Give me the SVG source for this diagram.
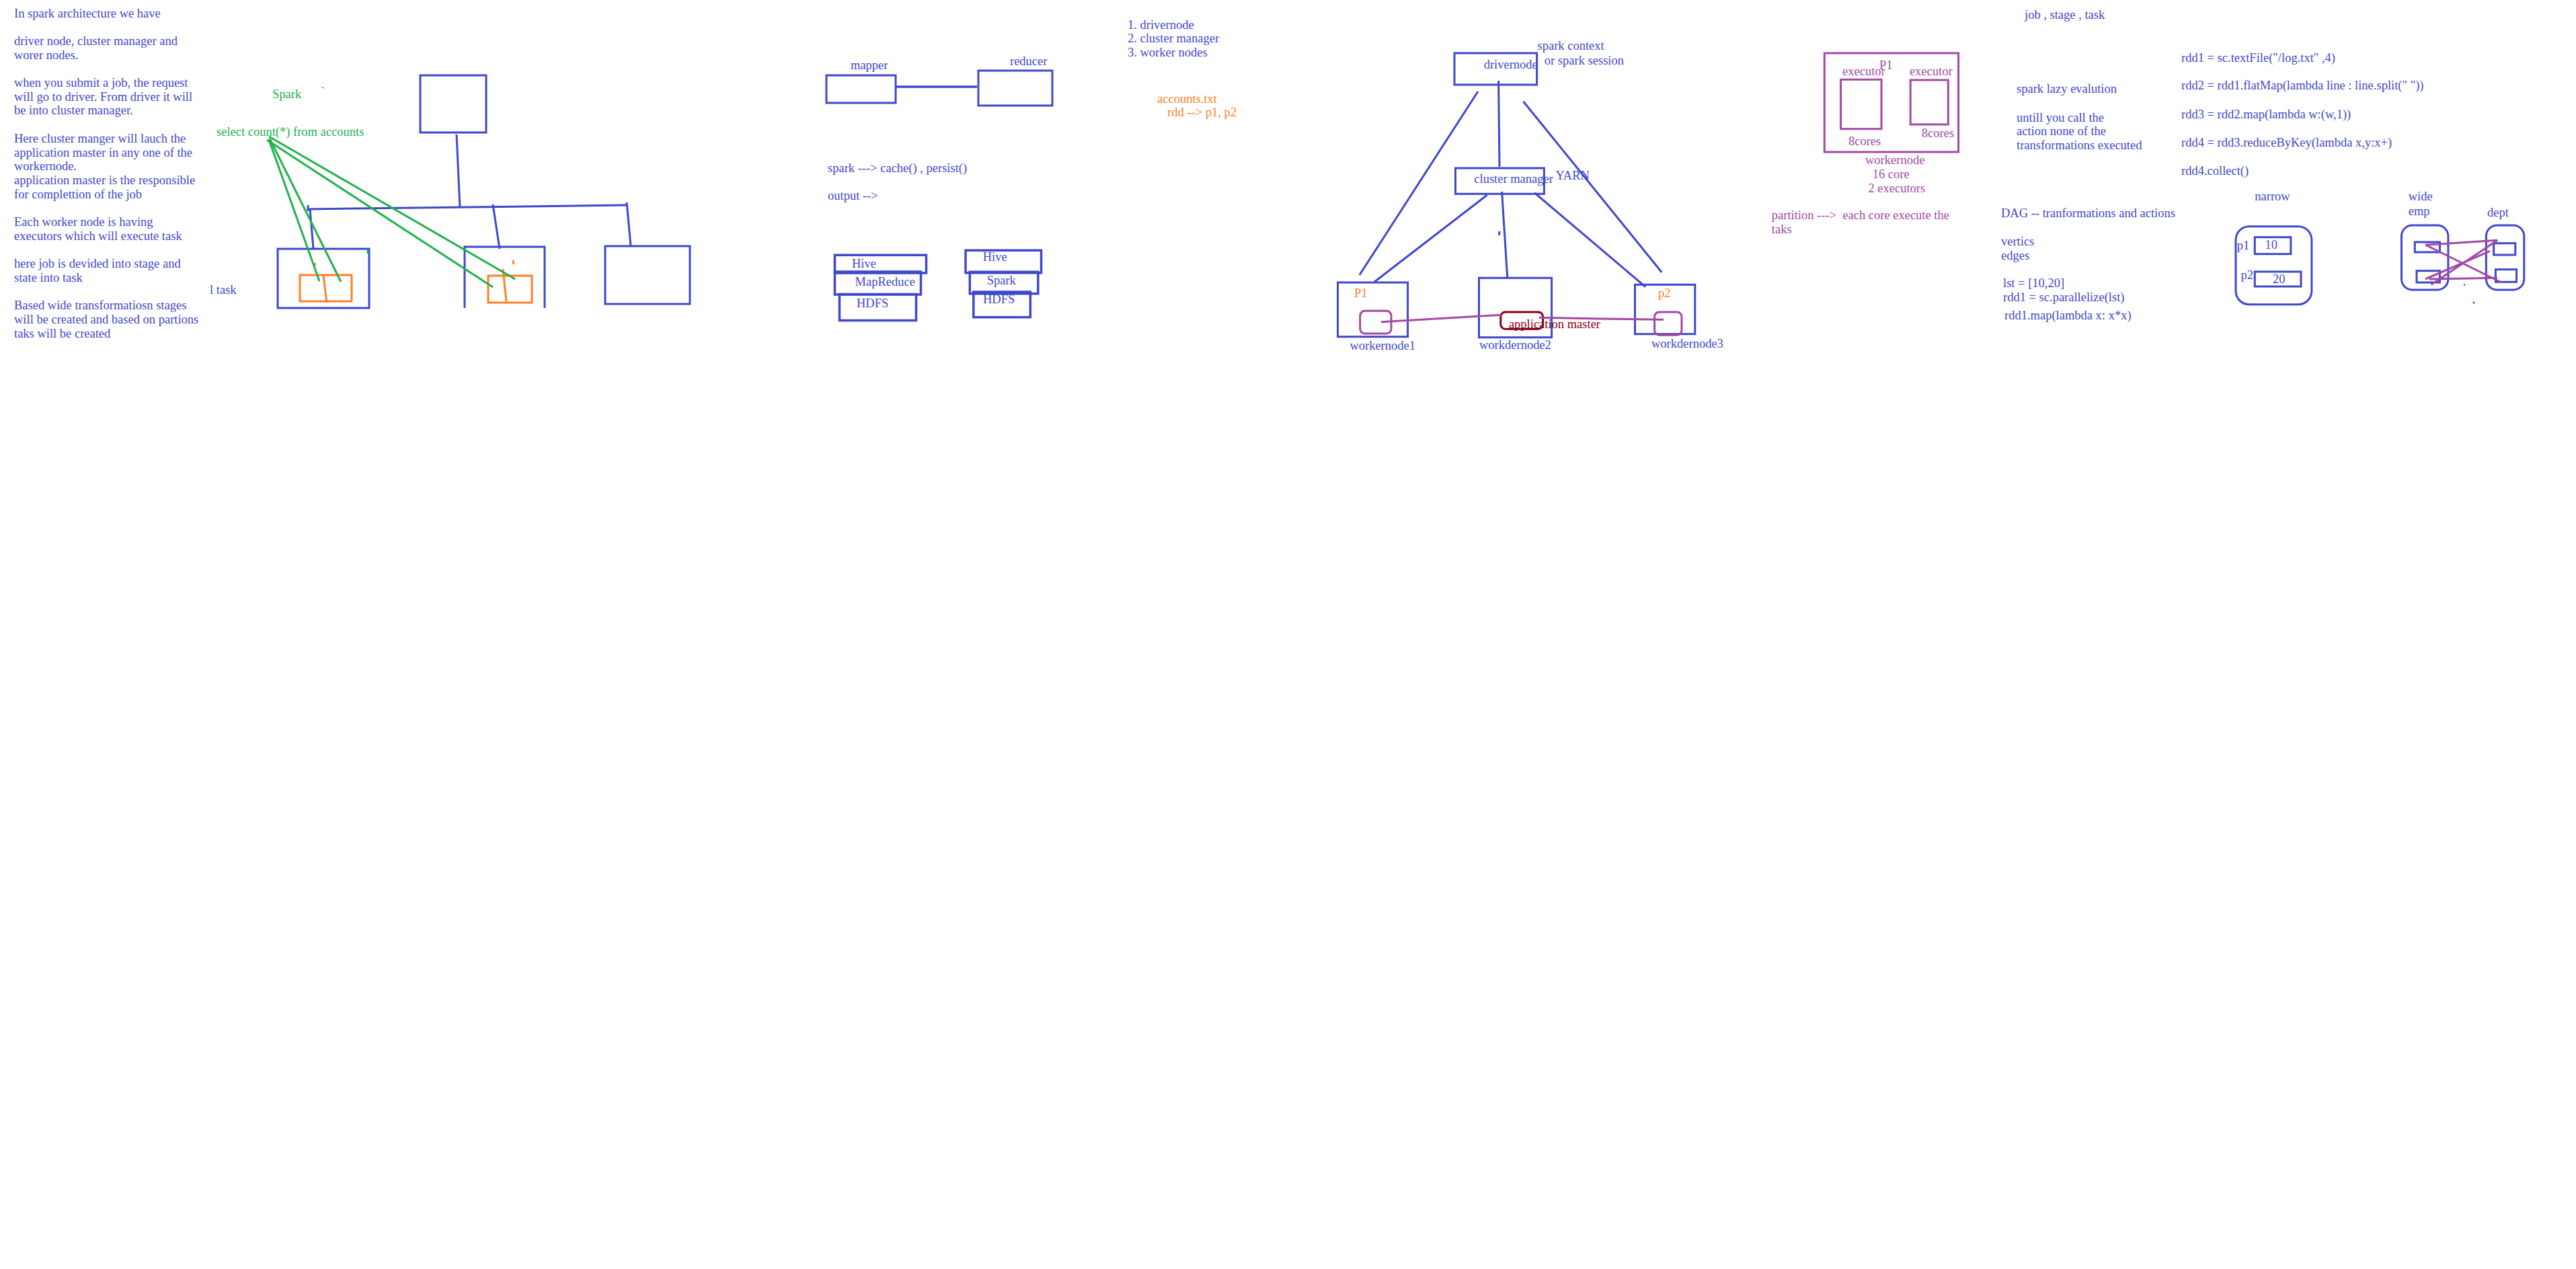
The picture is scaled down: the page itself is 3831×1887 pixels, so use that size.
<svg xmlns="http://www.w3.org/2000/svg" width="3831" height="1887" viewBox="0 0 3831 1887">
<style>
text{font-family:"Liberation Serif","Times New Roman",serif;font-size:18.5px}
.b{fill:#3f48cc}
.g{fill:#22b14c}
.o{fill:#ff7f27}
.p{fill:#a349a4}
.r{fill:#880015}
.sb{fill:none;stroke:#3f48cc;stroke-width:3}
.sb4{fill:none;stroke:#3f48cc;stroke-width:3.5}
.sg{fill:none;stroke:#22b14c;stroke-width:3}
.so{fill:none;stroke:#ff7f27;stroke-width:3}
.sp{fill:none;stroke:#a349a4;stroke-width:3}
.sr{fill:none;stroke:#880015;stroke-width:3}
</style>
<rect width="3831" height="1887" fill="#ffffff"/>

<g id="notes" class="b">
<text x="21" y="25.5">In spark architecture we have</text>
<text x="21" y="66.9">driver node, cluster manager and</text>
<text x="21" y="87.6">worer nodes.</text>
<text x="21" y="129">when you submit a job, the request</text>
<text x="21" y="149.7">will go to driver. From driver it will</text>
<text x="21" y="170.4">be into cluster manager.</text>
<text x="21" y="211.8">Here cluster manger will lauch the</text>
<text x="21" y="232.5">application master in any one of the</text>
<text x="21" y="253.2">workernode.</text>
<text x="21" y="273.9">application master is the responsible</text>
<text x="21" y="294.6">for complettion of the job</text>
<text x="21" y="336">Each worker node is having</text>
<text x="21" y="356.7">executors which will execute task</text>
<text x="21" y="398.1">here job is devided into stage and</text>
<text x="21" y="418.8">state into task</text>
<text x="21" y="460.2">Based wide transformatiosn stages</text>
<text x="21" y="480.9">will be created and based on partions</text>
<text x="21" y="501.6">taks will be created</text>
</g>

<g id="spark-query" class="g">
<text x="405" y="145.5">Spark</text>
<text x="477" y="142">`</text>
<text x="322" y="201.5">select count(*) from accounts</text>
</g>
<g id="task-label" class="b"><text x="312" y="437">l task</text></g>

<g id="top-box"><rect class="sb" x="625" y="112" width="98" height="85"/></g>
<g id="box-a">
<rect class="sb" x="413" y="370" width="136" height="88"/>
<rect class="so" x="446" y="409" width="77" height="39"/>
<line class="so" x1="481" y1="410" x2="486" y2="450"/>
<line class="so" x1="468" y1="391" x2="469" y2="395"/>
</g>
<g id="box-b">
<path class="sb" d="M691,458 V367 H810 V458"/>
<rect class="so" x="726" y="410" width="65" height="40"/>
<line class="so" x1="748" y1="400" x2="753" y2="448"/>
<line class="so" x1="763" y1="387" x2="764" y2="393"/>
</g>
<g id="box-c"><rect class="sb" x="900" y="366" width="126" height="86"/></g>

<g id="mapper">
<rect class="sb" x="1229" y="112" width="103" height="41"/>
<text class="b" x="1265" y="103">mapper</text>
</g>
<g id="reducer">
<rect class="sb" x="1455" y="105" width="110" height="52"/>
<text class="b" x="1502" y="97">reducer</text>
</g>

<g id="component-list" class="b">
<text x="1677" y="42.7">1. drivernode</text>
<text x="1677" y="63.4">2. cluster manager</text>
<text x="1677" y="84.1">3. worker nodes</text>
</g>
<g id="accounts" class="o">
<text x="1721" y="152.7">accounts.txt</text>
<text x="1736" y="173.4">rdd --&gt; p1, p2</text>
</g>
<g id="cache-notes" class="b">
<text x="1231" y="256">spark ---&gt; cache() , persist()</text>
<text x="1231" y="296.7">output --&gt;</text>
</g>

<g id="stack-mapreduce">
<rect class="sb4" x="1241.5" y="379.3" width="136" height="26.7"/>
<rect class="sb4" x="1241.5" y="404" width="128" height="34"/>
<rect class="sb4" x="1248.5" y="437.5" width="114" height="39"/>
<text class="b" x="1267" y="397.7">Hive</text>
<text class="b" x="1271.5" y="425">MapReduce</text>
<text class="b" x="1274" y="456.7">HDFS</text>
</g>
<g id="stack-spark">
<rect class="sb4" x="1436" y="372.3" width="112.5" height="33.4"/>
<rect class="sb4" x="1442.3" y="404.3" width="101.5" height="32.4"/>
<rect class="sb4" x="1447.8" y="434" width="84.5" height="37.7"/>
<text class="b" x="1461.7" y="388.3">Hive</text>
<text class="b" x="1467.7" y="423.3">Spark</text>
<text class="b" x="1462" y="450.7">HDFS</text>
</g>

<g id="drivernode">
<rect class="sb" x="2163" y="79" width="122.6" height="47"/>
<text class="b" x="2206.7" y="101.7">drivernode</text>
<text class="b" x="2286.5" y="74.3">spark context</text>
<text class="b" x="2296.8" y="95.7">or spark session</text>
</g>
<g id="cluster-manager">
<rect class="sb" x="2164.5" y="250" width="131.9" height="38.3"/>
<text class="b" x="2192.3" y="272.3">cluster manager</text>
<text class="b" x="2313.5" y="266.7">YARN</text>
</g>
<g id="workernode1">
<rect class="sb" x="1989.5" y="420" width="104.1" height="80.7"/>
<text class="o" x="2014" y="442.3">P1</text>
<rect class="sp" x="2022.7" y="462.3" width="46.3" height="33.7" rx="7"/>
<text class="b" x="2007.4" y="520">workernode1</text>
</g>
<g id="workdernode2">
<rect class="sb" x="2199.5" y="413.3" width="108.1" height="88.4"/>
<rect class="sr" x="2231.8" y="464" width="62.8" height="25.3" rx="7"/>
<text class="r" x="2243.9" y="488.3">application master</text>
<text class="b" x="2200" y="519">workdernode2</text>
</g>
<g id="workdernode3">
<rect class="sb" x="2431.5" y="423.3" width="89.3" height="73.4"/>
<text class="o" x="2466" y="441.7">p2</text>
<rect class="sp" x="2460.6" y="464" width="40.4" height="34.3" rx="7"/>
<text class="b" x="2456" y="516.7">workdernode3</text>
</g>

<g id="workernode-detail">
<rect class="sp" x="2713.3" y="79" width="199.3" height="147"/>
<rect class="sp" x="2737.6" y="118.3" width="60.4" height="73.4"/>
<rect class="sp" x="2841.2" y="119" width="56.1" height="66"/>
<text class="p" x="2740" y="111.7">executor</text>
<text class="p" x="2795" y="103.3">P1</text>
<text class="p" x="2839.9" y="111.7">executor</text>
<text class="p" x="2749" y="215.7">8cores</text>
<text class="p" x="2857.8" y="204.3">8cores</text>
<text class="p" x="2774" y="244.3">workernode</text>
<text class="p" x="2784.7" y="265">16 core</text>
<text class="p" x="2778.4" y="286">2 executors</text>
</g>
<g id="partition-note" class="p">
<text x="2634.8" y="326" xml:space="preserve">partition ---&gt;  each core execute the</text>
<text x="2634.8" y="346.7">taks</text>
</g>

<g id="lazy-eval" class="b">
<text x="3011" y="28.3">job , stage , task</text>
<text x="2999" y="138.3">spark lazy evalution</text>
<text x="2999" y="180.5">untill you call the</text>
<text x="2999" y="201.2">action none of the</text>
<text x="2999" y="221.9">transformations executed</text>
</g>
<g id="code" class="b">
<text x="3244" y="91.7">rdd1 = sc.textFile("/log.txt" ,4)</text>
<text x="3244" y="133.3">rdd2 = rdd1.flatMap(lambda line : line.split(" "))</text>
<text x="3244" y="176">rdd3 = rdd2.map(lambda w:(w,1))</text>
<text x="3244" y="218.3">rdd4 = rdd3.reduceByKey(lambda x,y:x+)</text>
<text x="3244" y="260">rdd4.collect()</text>
</g>
<g id="dag-notes" class="b">
<text x="2976" y="323">DAG -- tranformations and actions</text>
<text x="2976" y="365">vertics</text>
<text x="2976" y="386">edges</text>
<text x="2979" y="426.7">lst = [10,20]</text>
<text x="2979" y="447.7">rdd1 = sc.parallelize(lst)</text>
<text x="2981" y="475">rdd1.map(lambda x: x*x)</text>
</g>

<g id="narrow">
<text class="b" x="3353.3" y="298.3">narrow</text>
<rect class="sb" x="3325" y="336.7" width="112.9" height="116" rx="20"/>
<rect class="sb" x="3353.3" y="352.7" width="53.6" height="25"/>
<rect class="sb" x="3353.3" y="404" width="68.7" height="22"/>
<text class="b" x="3326.8" y="371">p1</text>
<text class="b" x="3368.5" y="370">10</text>
<text class="b" x="3332.4" y="415">p2</text>
<text class="b" x="3380" y="420.7">20</text>
</g>
<g id="emp">
<text class="b" x="3581.7" y="298.3">wide</text>
<text class="b" x="3581.7" y="320">emp</text>
<rect class="sb" x="3571.5" y="335" width="69.4" height="96" rx="16"/>
<rect class="sb" x="3591.3" y="360" width="37.2" height="15"/>
<rect class="sb" x="3594" y="402.7" width="34.5" height="17.3"/>
</g>
<g id="dept">
<text class="b" x="3699" y="321.7">dept</text>
<rect class="sb" x="3697.4" y="335" width="56.4" height="96" rx="16"/>
<rect class="sb" x="3708.6" y="361.7" width="32.2" height="17.3"/>
<rect class="sb" x="3711.4" y="400.7" width="31.1" height="18.6"/>
</g>

<g id="connectors">
<line class="sb" x1="679" y1="200" x2="684" y2="309"/>
<line class="sb" x1="458" y1="311" x2="932" y2="305"/>
<line class="sb" x1="458" y1="305" x2="458" y2="314"/>
<line class="sb" x1="461" y1="311" x2="466" y2="370"/>
<line class="sb" x1="733" y1="304" x2="743" y2="370"/>
<line class="sb" x1="932" y1="301" x2="938" y2="365"/>
<line class="sg" x1="400" y1="208" x2="475" y2="418"/>
<line class="sg" x1="401" y1="206" x2="507" y2="419"/>
<line class="sg" x1="397" y1="208" x2="733" y2="427"/>
<line class="sg" x1="400" y1="203" x2="766" y2="415"/>
<line class="sg" x1="547" y1="371" x2="547" y2="377"/>
<line class="sb4" x1="1332" y1="129" x2="1453" y2="129"/>
<line class="sb" x1="2228.6" y1="120" x2="2230" y2="248.3"/>
<line class="sb" x1="2198" y1="136" x2="2021.8" y2="409"/>
<line class="sb" x1="2265.4" y1="150.7" x2="2471.4" y2="405"/>
<line class="sb" x1="2211.6" y1="290" x2="2044.2" y2="419"/>
<line class="sb" x1="2233.6" y1="285" x2="2241.7" y2="412.3"/>
<line class="sb" x1="2282" y1="286.7" x2="2447.2" y2="426.7"/>
<line class="sb" x1="2230" y1="344" x2="2229.5" y2="350"/>
<polyline class="sp" points="2054,478.7 2232.7,468.3"/>
<polyline class="sp" points="2288.8,472.3 2380.7,474 2474,475.3"/>
<line class="sp" x1="3607" y1="364.3" x2="3714.2" y2="357.3"/>
<line class="sp" x1="3714.2" y1="357.3" x2="3615.6" y2="423.3"/>
<line class="sp" x1="3607" y1="364" x2="3720" y2="420"/>
<line class="sp" x1="3607" y1="415" x2="3703" y2="373.3"/>
<line class="sp" x1="3612.7" y1="415" x2="3714" y2="413.3"/>
<rect x="3664" y="422" width="2" height="3" fill="#a349a4"/>
<rect x="3677.5" y="448.5" width="3" height="3" fill="#a349a4"/>
</g>
</svg>
